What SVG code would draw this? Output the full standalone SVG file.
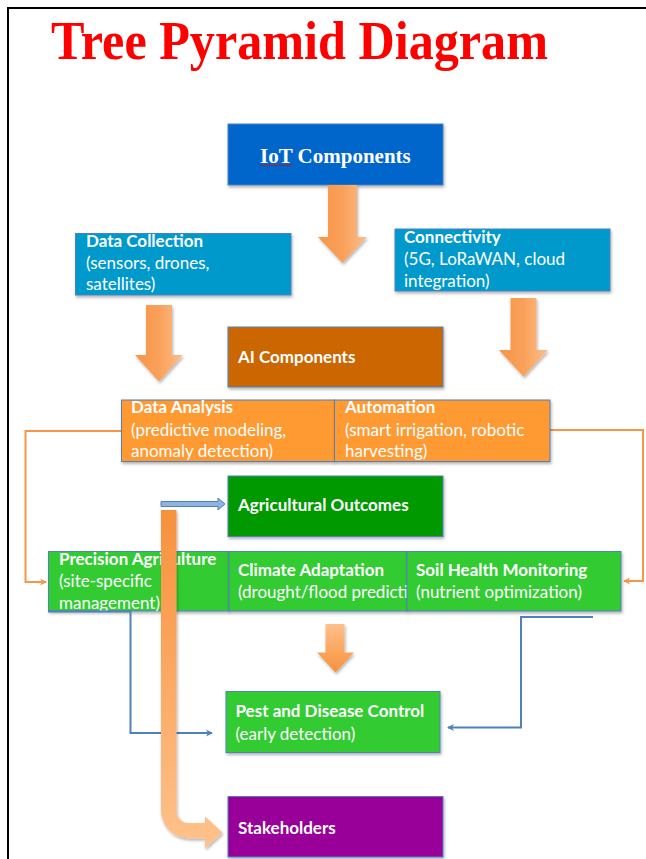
<svg xmlns="http://www.w3.org/2000/svg" width="646" height="859" viewBox="0 0 646 859">
<style>
.box{stroke:#4F81BD;stroke-width:1;filter:url(#sh)}
.t{font-family:Lato,"Open Sans","Liberation Sans",sans-serif;font-size:17px;fill:#fff}
.b{font-weight:bold}
.oc{fill:none;stroke:#F79646;stroke-width:2}
.bc{fill:none;stroke:#4F81BD;stroke-width:2}
</style>
<defs>
<filter id="sh" x="-5%" y="-10%" width="115%" height="130%">
<feDropShadow dx="1" dy="2" stdDeviation="1.5" flood-color="#000" flood-opacity="0.3"/>
</filter>
<linearGradient id="gh" x1="0" y1="0" x2="1" y2="0">
<stop offset="0" stop-color="#F79646"/>
<stop offset="0.5" stop-color="#F9A05A"/>
<stop offset="1" stop-color="#FDBE8A"/>
</linearGradient>
<linearGradient id="gv" x1="0" y1="0" x2="0" y2="1">
<stop offset="0" stop-color="#F7913C"/>
<stop offset="1" stop-color="#FFC28C"/>
</linearGradient>
<linearGradient id="gs" x1="0" y1="0" x2="0" y2="1">
<stop offset="0" stop-color="#FFC08A"/>
<stop offset="1" stop-color="#F7913C"/>
</linearGradient>
<marker id="ao" markerWidth="8" markerHeight="8" refX="6" refY="4" orient="auto" markerUnits="userSpaceOnUse">
<path d="M0,0.5 L7,4 L0,7.5 L2,4 Z" fill="#F79646"/>
</marker>
<marker id="ab" markerWidth="8" markerHeight="8" refX="6" refY="4" orient="auto" markerUnits="userSpaceOnUse">
<path d="M0,0.5 L7,4 L0,7.5 L2,4 Z" fill="#4F81BD"/>
</marker>
</defs>
<rect width="646" height="859" fill="#fff"/>
<path d="M8,859 V8 H646" fill="none" stroke="#000" stroke-width="2"/>
<text x="51" y="59" font-family="'Liberation Serif',serif" font-weight="bold" font-size="54" fill="#FF0000" textLength="497" lengthAdjust="spacingAndGlyphs">Tree Pyramid Diagram</text>

<g id="connectors-back">
<path class="oc" d="M121.5,431 H25.5 V582 H46" marker-end="url(#ao)"/>
<path class="oc" d="M550,430 H643 V581 H624" marker-end="url(#ao)"/>
</g>

<g id="iot">
<rect class="box" x="228" y="124" width="215" height="61" fill="#0066CC"/>
<text x="260" y="163" font-family="'Liberation Serif',serif" font-weight="bold" font-size="21" fill="#fff">IoT Components</text>
<path d="M260,166 l2,-1.5 l2,1.5 l2,-1.5 l2,1.5 l2,-1.5 l2,1.5 l2,-1.5 l2,1.5 l2,-1.5 l2,1.5 l2,-1.5 l2,1.5 l2,-1.5 l2,1.5 l2,-1.5 l2,1.5" fill="none" stroke="#E00000" stroke-width="0.8"/>
</g>
<g id="data-collection">
<rect class="box" x="75.5" y="233.5" width="215.5" height="61.5" fill="#0099CC"/>
<text class="t" x="86" y="246.5"><tspan class="b">Data Collection</tspan><tspan x="86" y="268.5">(sensors, drones,</tspan><tspan x="86" y="290">satellites)</tspan></text>
</g>
<g id="connectivity">
<rect class="box" x="395" y="229" width="215" height="62" fill="#0099CC"/>
<text class="t" x="404" y="242.5"><tspan class="b">Connectivity</tspan><tspan x="404" y="265">(5G, LoRaWAN, cloud</tspan><tspan x="404" y="286.5">integration)</tspan></text>
</g>
<g id="ai">
<rect class="box" x="228" y="327" width="215" height="60" fill="#CC6600"/>
<text class="t b" x="238" y="362.5">AI Components</text>
</g>
<g id="data-analysis">
<rect class="box" x="121.5" y="400" width="213" height="61.5" fill="#FF9933"/>
<text class="t" x="131" y="413"><tspan class="b">Data Analysis</tspan><tspan x="131" y="435.5">(predictive modeling,</tspan><tspan x="131" y="457">anomaly detection)</tspan></text>
</g>
<g id="automation">
<rect class="box" x="334.5" y="400" width="215.5" height="61.5" fill="#FF9933"/>
<text class="t" x="345" y="413"><tspan class="b">Automation</tspan><tspan x="345" y="435.5">(smart irrigation, robotic</tspan><tspan x="345" y="457">harvesting)</tspan></text>
</g>
<g id="agri-outcomes">
<rect class="box" x="228" y="476" width="215" height="60.5" fill="#009900"/>
<text class="t b" x="238" y="510.5">Agricultural Outcomes</text>
</g>
<g id="precision">
<rect class="box" x="48.5" y="551.5" width="180.5" height="59.5" fill="#33CC33"/>
<text class="t" x="59" y="565"><tspan class="b">Precision Agriculture</tspan><tspan x="59" y="587">(site-specific</tspan><tspan x="59" y="608.5">management)</tspan></text>
</g>
<g id="climate">
<rect class="box" x="229" y="551.5" width="178" height="59.5" fill="#33CC33"/>
<text class="t" x="238" y="575.5"><tspan class="b">Climate Adaptation</tspan><tspan x="238" y="597.5">(drought/flood prediction)</tspan></text>
</g>
<g id="soil">
<rect class="box" x="407" y="551.5" width="214" height="59.5" fill="#33CC33"/>
<text class="t" x="416" y="575.5"><tspan class="b">Soil Health Monitoring</tspan><tspan x="416" y="597.5">(nutrient optimization)</tspan></text>
</g>
<g id="pest">
<rect class="box" x="226" y="691.5" width="214" height="61" fill="#33CC33"/>
<text class="t" x="235.5" y="717"><tspan class="b">Pest and Disease Control</tspan><tspan x="235.5" y="740">(early detection)</tspan></text>
</g>
<g id="stakeholders">
<rect class="box" x="228" y="796.5" width="215" height="60.5" fill="#990099"/>
<text class="t b" x="238" y="833.5">Stakeholders</text>
</g>

<g id="connectors">
<path d="M328,185 H357 V237 H367 L342.5,263 L318,237 H328 Z" fill="url(#gh)" filter="url(#sh)"/>
<path d="M146,305 H172 V355 H183 L159,381.5 L135,355 H146 Z" fill="url(#gh)" filter="url(#sh)"/>
<path d="M510.5,298 H536.5 V350 H548 L523.5,376.5 L499,350 H510.5 Z" fill="url(#gh)" filter="url(#sh)"/>
<path d="M325.5,624 H344.5 V652.5 H354 L335.5,672.5 L317,652.5 H325.5 Z" fill="url(#gs)" filter="url(#sh)"/>
<path class="bc" d="M48,611.5 H130.5 V733 H212" marker-end="url(#ab)"/>
<path class="bc" d="M593,617 H521 V727.5 H448" marker-end="url(#ab)"/>
<path d="M161,510 H176.5 V811 A12,12 0 0 0 188.5,823 H205 V816.5 L222.5,832.5 L205,848.5 V838.5 H189 A28,28 0 0 1 161,810.5 Z" fill="url(#gv)" filter="url(#sh)"/>
<path d="M161,501.5 H218 V498 L225,504 L218,510 V506.5 H161 Z" fill="#8DB3E2" stroke="#4F81BD" stroke-width="1"/>
</g>
</svg>
